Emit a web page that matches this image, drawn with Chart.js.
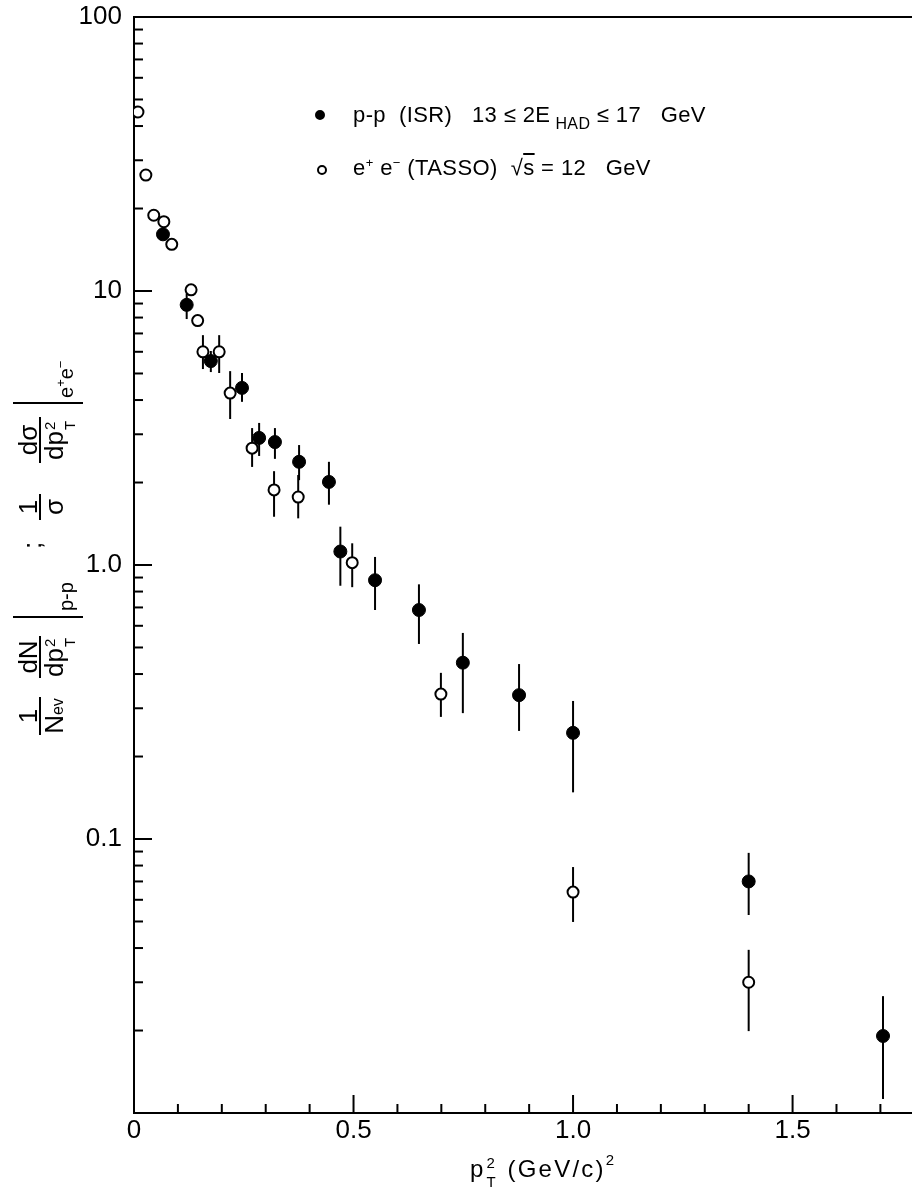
<!DOCTYPE html>
<html>
<head>
<meta charset="utf-8">
<script src="https://cdn.jsdelivr.net/npm/chart.js@4.4.0/dist/chart.umd.min.js"></script>
<style>
  body { margin: 0; background: #fff; }
  #wrap { position: relative; width: 912px; height: 1193px; font-family: "Liberation Sans", Arial, sans-serif; color: #000; }
  #wrap canvas { position: absolute; left: 0; top: 0; }
  .ab { position: absolute; white-space: nowrap; }
  .ss { display: inline-block; position: relative; width: 11px; height: 0; }
  .ss .up, .ss .dn { position: absolute; left: 1px; font-size: 15px; line-height: 15px; }
  /* y title, laid out in the rotated frame */
  #ytitle { position: absolute; left: 48px; top: 545px; width: 380px; height: 72px; transform: translate(-50%, -50%) rotate(-90deg); font-size: 26px; }
  #ytitle .frac { position: absolute; top: 5px; display: flex; flex-direction: column; align-items: center; }
  #ytitle .num { border-bottom: 2px solid #000; line-height: 22px; padding: 0 2px; align-self: stretch; text-align: center; }
  #ytitle .den { line-height: 26px; }
  #ytitle .bar { position: absolute; top: 1px; width: 2px; height: 70px; background: #000; }
  #ytitle .sub { position: absolute; top: 44px; font-size: 20px; line-height: 20px; }
  #legend { font-size: 22px; line-height: 22px; letter-spacing: 0.4px; }
  .mk { position: absolute; width: 10px; height: 10px; border-radius: 50%; border: 2px solid #000; box-sizing: border-box; }
  #xtitle { left: 470px; top: 1157px; font-size: 24px; line-height: 24px; letter-spacing: 2.2px; }
</style>
</head>
<body>
<div id="wrap">
  <canvas id="chart"></canvas>
  <div id="legend">
    <span class="mk" style="left:315px; top:110px; background:#000"></span>
    <div class="ab" style="left:353px; top:104px">p-p&nbsp; (ISR)&nbsp;&nbsp; 13 &le; 2E<span style="font-size:16px; position:relative; top:7px; margin-left:5px">HAD</span> &le; 17&nbsp;&nbsp; GeV</div>
    <span class="mk" style="left:317px; top:165px; background:#fff"></span>
    <div class="ab" style="left:353px; top:157px">e<span style="font-size:13px; position:relative; top:-8px">+</span> e<span style="font-size:13px; position:relative; top:-8px">&minus;</span> (TASSO)&nbsp; &radic;<span style="text-decoration:overline">s</span> = 12&nbsp;&nbsp; GeV</div>
  </div>
  <div id="ytitle">
    <div class="frac" style="left:0; width:38px"><span class="num">1</span><span class="den">N<span style="font-size:16px">ev</span></span></div>
    <div class="frac" style="left:57px; width:42px"><span class="num">dN</span><span class="den">dp<span class="ss"><span class="up" style="bottom:6px">2</span><span class="dn" style="top:-1px">T</span></span></span></div>
    <div class="bar" style="left:117px"></div>
    <div class="sub" style="left:124px">p-p</div>
    <div class="sub" style="left:186px; top:10px; font-size:26px">;</div>
    <div class="frac" style="left:215px; width:26px"><span class="num">1</span><span class="den">&sigma;</span></div>
    <div class="frac" style="left:272px; width:46px"><span class="num">d&sigma;</span><span class="den">dp<span class="ss"><span class="up" style="bottom:6px">2</span><span class="dn" style="top:-1px">T</span></span></span></div>
    <div class="bar" style="left:331px"></div>
    <div class="sub" style="left:337px">e<span style="font-size:13px; position:relative; top:-8px">+</span>e<span style="font-size:13px; position:relative; top:-8px">&minus;</span></div>
  </div>
  <div id="xtitle" class="ab">p<span class="ss" style="width:22px"><span class="up" style="bottom:7px">2</span><span class="dn" style="top:-3px">T</span></span>(GeV/c)<span style="font-size:15px; position:relative; top:-12px">2</span></div>
</div>
<script>
// p-p (ISR), filled circles
const ppX  = [0.066, 0.12, 0.175, 0.246, 0.285, 0.321, 0.376, 0.444, 0.47, 0.549, 0.649, 0.749, 0.877, 1.0, 1.40, 1.706];
const ppY  = [16.1, 8.9, 5.55, 4.43, 2.91, 2.81, 2.38, 2.01, 1.12, 0.88, 0.685, 0.44, 0.335, 0.244, 0.070, 0.0191];
const ppLo = [16.1, 7.9, 5.06, 3.94, 2.5, 2.44, 2.04, 1.66, 0.84, 0.685, 0.515, 0.288, 0.248, 0.148, 0.0528, 0.01125];
const ppHi = [16.1, 9.8, 6.04, 5.02, 3.3, 3.16, 2.74, 2.38, 1.38, 1.07, 0.85, 0.565, 0.435, 0.319, 0.089, 0.0267];

// e+e- (TASSO), open circles
const eeX  = [0.009, 0.027, 0.045, 0.068, 0.086, 0.13, 0.145, 0.157, 0.194, 0.219, 0.269, 0.319, 0.374, 0.497, 0.699, 1.0, 1.40];
const eeY  = [45, 26.5, 18.9, 17.9, 14.8, 10.1, 7.8, 6.0, 6.0, 4.24, 2.67, 1.88, 1.77, 1.02, 0.338, 0.064, 0.030];
const eeLo = [45, 26.5, 18.9, 17.9, 14.8, 10.1, 7.8, 5.19, 5.02, 3.41, 2.28, 1.5, 1.48, 0.83, 0.279, 0.0498, 0.0199];
const eeHi = [45, 26.5, 18.9, 17.9, 14.8, 10.1, 7.8, 6.9, 6.9, 5.1, 3.16, 2.2, 2.13, 1.2, 0.404, 0.079, 0.0394];

// axis ticks
const xTicks = [0, 0.1, 0.2, 0.3, 0.4, 0.5, 0.6, 0.7, 0.8, 0.9, 1.0, 1.1, 1.2, 1.3, 1.4, 1.5, 1.6, 1.7];
const xMajor = [0, 0.5, 1.0, 1.5];
const xLabels = ['0', '0.5', '1.0', '1.5'];
const yMajor = [0.01, 0.1, 1, 10, 100];
const yLabels = ['', '0.1', '1.0', '10', '100'];

let yTicks = [];
yMajor.forEach(function (d, i) {
    yTicks.push(d);
    if (i < yMajor.length - 1) {
        for (let m = 2; m <= 9; m++) yTicks.push(+(d * m).toPrecision(3));
    }
});

function majorIndex(list, v) {
    return list.findIndex(function (m) { return Math.abs(m - v) < 1e-9 * Math.max(1, m); });
}

const errorBars = {
    id: 'errorBars',
    beforeDatasetsDraw(chart) {
        const ctx = chart.ctx;
        const xs = chart.scales.x, ys = chart.scales.y;
        ctx.save();
        ctx.strokeStyle = '#000';
        ctx.lineWidth = 2;
        [[ppX, ppLo, ppHi], [eeX, eeLo, eeHi]].forEach(function (s) {
            s[0].forEach(function (x, i) {
                if (s[1][i] === s[2][i]) return;
                const px = xs.getPixelForValue(x);
                ctx.beginPath();
                ctx.moveTo(px, ys.getPixelForValue(s[2][i]));
                ctx.lineTo(px, ys.getPixelForValue(s[1][i]));
                ctx.stroke();
            });
        });
        ctx.restore();
    }
};

// inward tick marks and the top frame line
const frameTicks = {
    id: 'frameTicks',
    afterDraw(chart) {
        const ctx = chart.ctx;
        const a = chart.chartArea;
        const xs = chart.scales.x, ys = chart.scales.y;
        ctx.save();
        ctx.strokeStyle = '#000';
        ctx.lineWidth = 2;
        ctx.beginPath();
        ctx.moveTo(a.left, a.top);
        ctx.lineTo(a.right, a.top);
        ctx.stroke();
        yTicks.forEach(function (v) {
            const py = ys.getPixelForValue(v);
            const len = majorIndex(yMajor, v) >= 0 ? 18 : 9;
            ctx.beginPath();
            ctx.moveTo(a.left, py);
            ctx.lineTo(a.left + len, py);
            ctx.stroke();
        });
        xTicks.forEach(function (v) {
            const px = xs.getPixelForValue(v);
            const len = majorIndex(xMajor, v) >= 0 ? 18 : 9;
            ctx.beginPath();
            ctx.moveTo(px, a.bottom);
            ctx.lineTo(px, a.bottom - len);
            ctx.stroke();
        });
        ctx.restore();
    }
};

const tickFont = { family: '"Liberation Sans", Arial, sans-serif', size: 26 };

const ctx = document.getElementById('chart').getContext('2d');
const myChart = new Chart(ctx, {
    type: 'scatter',
    data: {
        datasets: [{
                label: 'p-p (ISR)',
                data: ppX.map(function (x, i) { return { x: x, y: ppY[i] }; }),
                pointRadius: 6.5,
                pointBackgroundColor: '#000',
                pointBorderColor: '#000',
                pointBorderWidth: 1
            }, {
                label: 'e+e- (TASSO)',
                data: eeX.map(function (x, i) { return { x: x, y: eeY[i] }; }),
                pointRadius: 5.5,
                pointBackgroundColor: '#fff',
                pointBorderColor: '#000',
                pointBorderWidth: 2
            }]
    },
    options: {
        responsive: true,
        maintainAspectRatio: false,
        animation: false,
        layout: { autoPadding: false, padding: { top: 17, right: 0, left: 0, bottom: 0 } },
        plugins: { legend: { display: false }, tooltip: { enabled: false } },
        scales: {
            x: {
                type: 'linear',
                min: 0,
                max: 1.772,
                afterFit: function (s) { s.height = 80; s.paddingLeft = 0; s.paddingRight = 0; },
                afterBuildTicks: function (s) { s.ticks = xTicks.map(function (v) { return { value: v }; }); },
                grid: { display: false, drawTicks: false },
                border: { display: true, color: '#000', width: 2 },
                ticks: {
                    autoSkip: false,
                    maxRotation: 0,
                    padding: 2,
                    color: '#000',
                    font: tickFont,
                    callback: function (v) {
                        const i = majorIndex(xMajor, v);
                        return i >= 0 ? xLabels[i] : '';
                    }
                }
            },
            y: {
                type: 'logarithmic',
                min: 0.01,
                max: 100,
                afterFit: function (s) { s.width = 134; s.paddingTop = 0; s.paddingBottom = 0; },
                afterBuildTicks: function (s) { s.ticks = yTicks.map(function (v) { return { value: v }; }); },
                grid: { display: false, drawTicks: false },
                border: { display: true, color: '#000', width: 2 },
                ticks: {
                    autoSkip: false,
                    padding: 12,
                    color: '#000',
                    font: tickFont,
                    callback: function (v) {
                        const i = majorIndex(yMajor, v);
                        return i >= 0 ? yLabels[i] : '';
                    }
                }
            }
        }
    },
    plugins: [errorBars, frameTicks]
});
</script>
</body>
</html>
